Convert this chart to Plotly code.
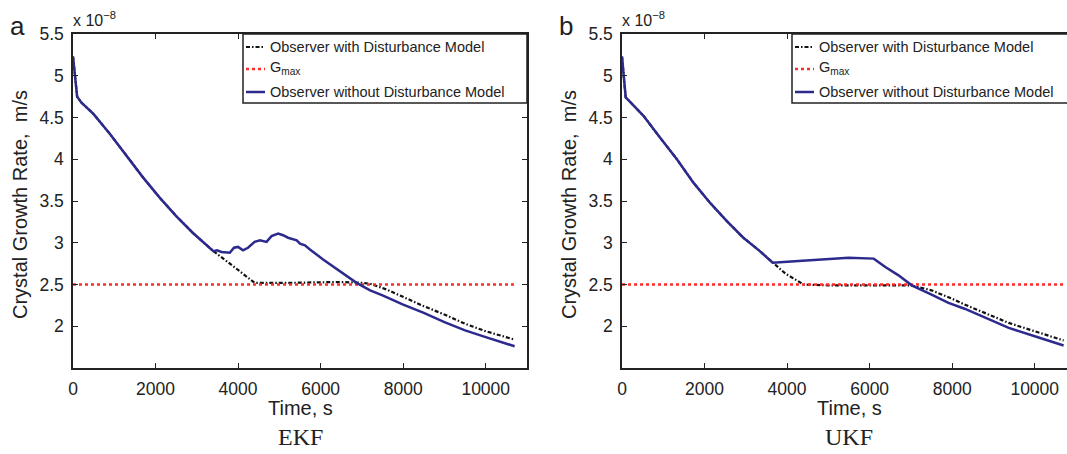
import plotly.graph_objects as go

# Crystal growth rate estimates, in units of 1e-8 m/s, versus time in s

# EKF, observer with disturbance model
EKF_T_WITH = [0, 100, 200, 500, 900, 1300, 1700, 2100, 2500, 2900, 3400, 3880, 4400,
              5250, 6460, 7000, 7200, 7600, 8000, 8500, 9000, 9500, 10000, 10700]
EKF_G_WITH = [5.23, 4.75, 4.68, 4.54, 4.30, 4.04, 3.78, 3.54, 3.32, 3.12, 2.90, 2.72, 2.52,
              2.52, 2.53, 2.52, 2.51, 2.44, 2.35, 2.24, 2.14, 2.03, 1.94, 1.84]

# EKF, observer without disturbance model
EKF_T_WITHOUT = [0, 100, 200, 500, 900, 1300, 1700, 2100, 2500, 2900, 3400, 3490, 3600,
                 3800, 3900, 4000, 4120, 4240, 4400, 4530, 4690, 4810, 4970, 5090, 5210,
                 5420, 5500, 5620, 5740, 6060, 6470, 6870, 7200, 7500, 8000, 8500, 9000,
                 9500, 10000, 10700]
EKF_G_WITHOUT = [5.23, 4.75, 4.68, 4.54, 4.30, 4.04, 3.78, 3.54, 3.32, 3.12, 2.90, 2.91, 2.89,
                 2.88, 2.94, 2.95, 2.91, 2.94, 3.01, 3.03, 3.01, 3.08, 3.11, 3.09, 3.06,
                 3.03, 2.99, 2.97, 2.92, 2.80, 2.66, 2.52, 2.43, 2.37, 2.26, 2.16, 2.05,
                 1.95, 1.87, 1.76]

# UKF, observer with disturbance model
UKF_T_WITH = [0, 90, 190, 520, 920, 1330, 1730, 2130, 2540, 2940, 3340, 3650, 3960, 4400,
              5000, 6000, 7000, 7500, 8000, 8300, 9120, 9370, 10000, 10700]
UKF_G_WITH = [5.23, 4.74, 4.69, 4.52, 4.26, 4.00, 3.72, 3.48, 3.26, 3.06, 2.90, 2.76, 2.63, 2.50,
              2.49, 2.49, 2.49, 2.43, 2.33, 2.26, 2.09, 2.04, 1.94, 1.83]

# UKF, observer without disturbance model
UKF_T_WITHOUT = [0, 90, 190, 520, 920, 1330, 1730, 2130, 2540, 2940, 3340, 3650, 4280, 5090,
                 5490, 6100, 6380, 6700, 7020, 7500, 7910, 8300, 8800, 9120, 9370, 10000, 10700]
UKF_G_WITHOUT = [5.23, 4.74, 4.69, 4.52, 4.26, 4.00, 3.72, 3.48, 3.26, 3.06, 2.90, 2.76, 2.78, 2.81,
                 2.82, 2.81, 2.71, 2.61, 2.49, 2.38, 2.28, 2.21, 2.10, 2.03, 1.98, 1.88, 1.77]

# Maximum growth rate constraint
G_MAX = 2.5
T_END = 10700

X_TICKS = [0, 2000, 4000, 6000, 8000, 10000]
X_TICK_TEXT = ["0", "2000", "4000", "6000", "8000", "10000"]
Y_TICKS = [2, 2.5, 3, 3.5, 4, 4.5, 5, 5.5]
Y_TICK_TEXT = ["2", "2.5", "3", "3.5", "4", "4.5", "5", "5.5"]

LEGEND_TEXT = ["Observer with Disturbance Model", "G<sub>max</sub>",
               "Observer without Disturbance Model"]

# ---- styling ----
W, H = 1067, 454
ML, MR, MT, MB = 73, 0, 34, 86
PW, PH = W - ML - MR, H - MT - MB
PX_PER_S = 454 / 11000.0

BLUE = "#2D2A8E"
RED = "#FF2B2B"
BLACK = "#111111"
AXIS = "#222222"
SANS = "Liberation Sans, Arial, sans-serif"
SERIF = "Liberation Serif, Times New Roman, serif"

DASHDOT = "4px,2px,1.5px,2px"
DOTTED = "3px,3px"


def fx(px):
    return (px - ML) / PW


def fy(py):
    return (MT + PH - py) / PH


left_x0, left_x1 = 73, 527
right_x0 = 622
right_x1 = W

fig = go.Figure()

panels = [
    ("x", "y", EKF_T_WITH, EKF_G_WITH, EKF_T_WITHOUT, EKF_G_WITHOUT),
    ("x2", "y2", UKF_T_WITH, UKF_G_WITH, UKF_T_WITHOUT, UKF_G_WITHOUT),
]
for xa, ya, tw, gw, to, go_ in panels:
    fig.add_trace(go.Scatter(x=tw, y=gw, mode="lines", xaxis=xa, yaxis=ya,
                             line=dict(color=BLACK, width=2.2, dash=DASHDOT),
                             showlegend=False, hoverinfo="skip"))
    fig.add_trace(go.Scatter(x=[0, T_END], y=[G_MAX, G_MAX], mode="lines", xaxis=xa, yaxis=ya,
                             line=dict(color=RED, width=2.5, dash=DOTTED),
                             showlegend=False, hoverinfo="skip"))
    fig.add_trace(go.Scatter(x=to, y=go_, mode="lines", xaxis=xa, yaxis=ya,
                             line=dict(color=BLUE, width=2.5),
                             showlegend=False, hoverinfo="skip"))

common_axis = dict(showline=True, linecolor=AXIS, linewidth=1.5, ticks="inside",
                   ticklen=5, tickwidth=1, tickcolor=AXIS, showgrid=False, zeroline=False,
                   tickfont=dict(family=SANS, size=17.5, color=AXIS))

fig.update_layout(
    width=W, height=H,
    margin=dict(l=ML, r=MR, t=MT, b=MB),
    paper_bgcolor="white", plot_bgcolor="white",
    showlegend=False,
    xaxis=dict(domain=[fx(left_x0), fx(left_x1)], range=[0, 11000], tickvals=X_TICKS,
               ticktext=X_TICK_TEXT, mirror="ticks", anchor="y", ticklabelstandoff=4,
               **common_axis),
    yaxis=dict(domain=[0, 1], range=[1.5, 5.5], tickvals=Y_TICKS, ticktext=Y_TICK_TEXT,
               mirror="ticks", anchor="x", ticklabelstandoff=4, **common_axis),
    xaxis2=dict(domain=[fx(right_x0), 1.0], range=[0, (right_x1 - right_x0) / PX_PER_S],
                tickvals=X_TICKS, ticktext=X_TICK_TEXT, mirror="ticks", anchor="y2",
                ticklabelstandoff=4, **common_axis),
    yaxis2=dict(domain=[0, 1], range=[1.5, 5.5], tickvals=Y_TICKS, ticktext=Y_TICK_TEXT,
                mirror=False, anchor="x2", ticklabelstandoff=4, **common_axis),
)

shapes = []
annotations = []

for ax0, label, tag, title_x in [(left_x0, "a", "EKF", 20), (right_x0, "b", "UKF", 569)]:
    # legend box
    bx0 = ax0 + 170
    shapes.append(dict(type="rect", xref="paper", yref="paper",
                       x0=fx(bx0), x1=fx(ax0 + 454), y0=fy(103), y1=fy(MT),
                       line=dict(color=AXIS, width=1.5), fillcolor="white", layer="above"))
    rows = [(47, BLACK, DASHDOT, 2.0), (69, RED, DOTTED, 2.5), (92, BLUE, "solid", 2.5)]
    for (ry, col, dash, lw), txt in zip(rows, LEGEND_TEXT):
        shapes.append(dict(type="line", xref="paper", yref="paper",
                           x0=fx(bx0 + 3), x1=fx(bx0 + 22), y0=fy(ry), y1=fy(ry),
                           line=dict(color=col, width=lw, dash=dash), layer="above"))
        annotations.append(dict(xref="paper", yref="paper", x=fx(bx0 + 25),
                                y=fy(ry - 1 if txt.startswith("G") else ry),
                                xanchor="left", yanchor="middle", showarrow=False,
                                text=txt, font=dict(family=SANS, size=14.5, color=AXIS)))
    # panel letter
    annotations.append(dict(xref="paper", yref="paper", x=fx(ax0 - 56), y=fy(26),
                            xanchor="center", yanchor="middle", showarrow=False,
                            text=label, font=dict(family=SANS, size=26, color=AXIS)))
    # exponent marker
    annotations.append(dict(xref="paper", yref="paper", x=fx(ax0 - 2), y=fy(31),
                            xanchor="left", yanchor="bottom", showarrow=False,
                            text="x 10<sup>\u22128</sup>",
                            font=dict(family=SANS, size=16, color=AXIS)))
    # axis titles
    annotations.append(dict(xref="paper", yref="paper", x=fx(title_x), y=fy(205),
                            xanchor="center", yanchor="middle", showarrow=False,
                            textangle=-90, text="Crystal Growth Rate,  m/s",
                            font=dict(family=SANS, size=20, color=AXIS)))
    annotations.append(dict(xref="paper", yref="paper", x=fx(ax0 + 227), y=fy(408),
                            xanchor="center", yanchor="middle", showarrow=False,
                            text="Time, s", font=dict(family=SANS, size=20, color=AXIS)))
    annotations.append(dict(xref="paper", yref="paper", x=fx(ax0 + 227), y=fy(452),
                            xanchor="center", yanchor="bottom", showarrow=False,
                            text=tag, font=dict(family=SERIF, size=24, color=AXIS)))

fig.update_layout(shapes=shapes, annotations=annotations)

fig.write_html("out.html")
